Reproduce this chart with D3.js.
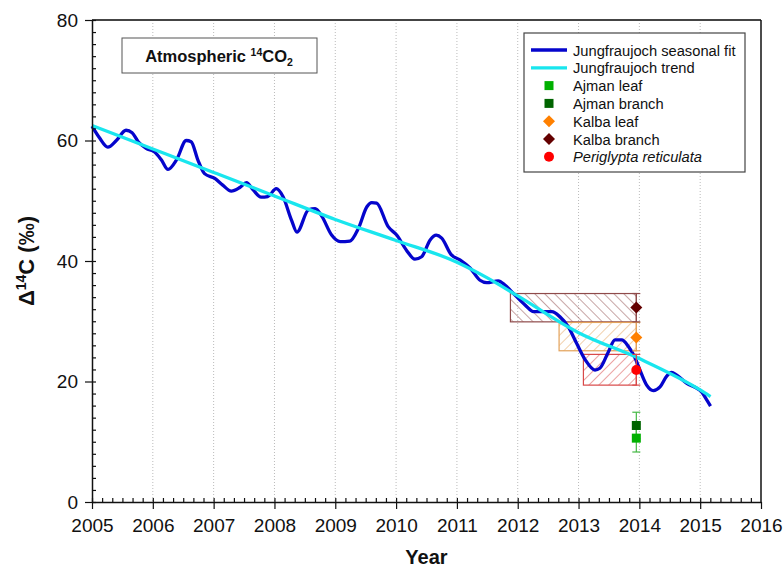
<!DOCTYPE html>
<html>
<head>
<meta charset="utf-8">
<script src="https://cdn.jsdelivr.net/npm/d3@7"></script>
<style>
  body { margin: 0; background: #fff; }
  svg { font-family: Arial, "Liberation Sans", sans-serif; }
</style>
</head>
<body>
<div id="chart"></div>
<script>
// Jungfraujoch seasonal fit
var fitYears = [2005.00, 2005.12, 2005.26, 2005.40, 2005.56, 2005.66, 2005.76, 2005.89, 2006.03, 2006.14,
  2006.25, 2006.39, 2006.55, 2006.63, 2006.74, 2006.85, 2007.02, 2007.15, 2007.29, 2007.43,
  2007.54, 2007.65, 2007.78, 2007.89, 2008.03, 2008.14, 2008.28, 2008.37, 2008.56, 2008.67,
  2008.78, 2008.94, 2009.08, 2009.24, 2009.38, 2009.52, 2009.60, 2009.68, 2009.87, 2010.01,
  2010.17, 2010.31, 2010.42, 2010.56, 2010.66, 2010.75, 2010.91, 2011.05, 2011.22, 2011.38,
  2011.49, 2011.68, 2011.79, 2011.93, 2012.12, 2012.26, 2012.42, 2012.56, 2012.69, 2012.83,
  2012.97, 2013.11, 2013.27, 2013.35, 2013.49, 2013.60, 2013.71, 2013.82, 2013.93, 2014.01,
  2014.12, 2014.23, 2014.34, 2014.45, 2014.53, 2014.61, 2014.78, 2014.94, 2015.02, 2015.11, 2015.17];
var fitValues = [62.4, 60.5, 58.9, 60.0, 61.7, 61.3, 59.8, 58.7, 58.1, 56.8,
  55.2, 56.8, 60.0, 59.8, 56.8, 54.5, 53.7, 52.6, 51.6, 52.2,
  53.0, 51.8, 50.6, 50.7, 52.0, 50.7, 46.8, 44.8, 48.5, 48.7,
  47.4, 44.3, 43.2, 43.3, 45.4, 49.0, 49.7, 49.6, 45.7, 44.3,
  41.8, 40.3, 40.7, 43.5, 44.3, 43.8, 41.0, 40.2, 38.8, 36.8,
  36.4, 36.7, 36.0, 34.6, 32.7, 31.6, 31.6, 31.6, 30.8, 29.1,
  26.3, 23.6, 21.9, 22.2, 24.9, 26.9, 26.9, 25.8, 23.9, 21.9,
  19.4, 18.5, 19.1, 20.9, 21.5, 21.1, 19.7, 18.9, 18.3, 16.9, 15.9];

// Jungfraujoch trend
var trendYears = [2005, 2006, 2007, 2008, 2009, 2010, 2011, 2011.5, 2012, 2013, 2014, 2015, 2015.17];
var trendValues = [62.5, 58.6, 54.7, 50.8, 46.9, 43.4, 39.8, 37.2, 34.2, 28.1, 23.8, 18.6, 17.5];

// sample points (value, error bar low, error bar high)
var sampleNames = ["Ajman leaf", "Ajman branch", "Kalba leaf", "Kalba branch", "Periglypta reticulata"];
var sampleYear = [2013.95, 2013.95, 2013.95, 2013.95, 2013.95];
var sampleValues = [10.6, 12.7, 27.3, 32.3, 21.9];
var sampleLow = [8.3, 10.5, 25.1, 29.9, 19.4];
var sampleHigh = [12.9, 14.9, 29.8, 34.6, 24.5];
var sampleStart = [null, null, 2012.68, 2011.88, 2013.08]; // left edge of hatched boxes

var xTicks = [2005, 2006, 2007, 2008, 2009, 2010, 2011, 2012, 2013, 2014, 2015, 2016];
var yTicks = [0, 20, 40, 60, 80];

var margin = {top: 20, right: 22, bottom: 70, left: 92},
  fullWidth = 783,
  fullHeight = 572,
  width = fullWidth - margin.left - margin.right,
  height = fullHeight - margin.top - margin.bottom;

var markerColor = ["#00b000", "#006400", "#ff8000", "#640000", "#ff0000"];
var boxColor = [null, null, "#e3a25a", "#8f4b4b", "#d84848"];
var hatchDir = [null, null, 45, -45, 45];

var xScale = d3.scaleLinear().domain([2005, 2016]).range([0, width]);
var yScale = d3.scaleLinear().domain([0, 80]).range([height, 0]);

var svg = d3.select("#chart").append("svg")
  .attr("width", fullWidth)
  .attr("height", fullHeight);

var defs = svg.append("defs");
[2, 3, 4].forEach(function (i) {
  var p = defs.append("pattern")
    .attr("id", "hatch" + i)
    .attr("patternUnits", "userSpaceOnUse")
    .attr("width", 7).attr("height", 7)
    .attr("patternTransform", "rotate(" + hatchDir[i] + ")");
  p.append("line")
    .attr("x1", 0).attr("y1", 0).attr("x2", 0).attr("y2", 7)
    .attr("stroke", boxColor[i]).attr("stroke-width", 1);
});

var g = svg.append("g")
  .attr("transform", "translate(" + margin.left + "," + margin.top + ")");

// dotted vertical grid
g.selectAll(".grid")
  .data(xTicks.slice(1, -1))
  .enter().append("line")
  .attr("x1", function (d) { return xScale(d); })
  .attr("x2", function (d) { return xScale(d); })
  .attr("y1", 0).attr("y2", height)
  .attr("stroke", "#bbb").attr("stroke-width", 1)
  .attr("stroke-dasharray", "1,2");

// frame top and right
g.append("line").attr("x1", 0).attr("x2", width).attr("y1", 0).attr("y2", 0)
  .attr("stroke", "#444").attr("stroke-width", 1.8);
g.append("line").attr("x1", width).attr("x2", width).attr("y1", 0).attr("y2", height)
  .attr("stroke", "#111").attr("stroke-width", 1.5);

// hatched boxes
[3, 2, 4].forEach(function (i) {
  g.append("rect")
    .attr("x", xScale(sampleStart[i]))
    .attr("y", yScale(sampleHigh[i]))
    .attr("width", xScale(sampleYear[i]) - xScale(sampleStart[i]))
    .attr("height", yScale(sampleLow[i]) - yScale(sampleHigh[i]))
    .attr("fill", "url(#hatch" + i + ")")
    .attr("stroke", boxColor[i]).attr("stroke-width", 1.2);
});

// lines
var fitLine = d3.line()
  .x(function (d, i) { return xScale(fitYears[i]); })
  .y(function (d) { return yScale(d); })
  .curve(d3.curveMonotoneX);
var trendLine = d3.line()
  .x(function (d, i) { return xScale(trendYears[i]); })
  .y(function (d) { return yScale(d); })
  .curve(d3.curveMonotoneX);

g.append("path").datum(fitValues)
  .attr("d", fitLine).attr("fill", "none")
  .attr("stroke", "#0505cc").attr("stroke-width", 3.3);
g.append("path").datum(trendValues)
  .attr("d", trendLine).attr("fill", "none")
  .attr("stroke", "#19e6ee").attr("stroke-width", 3.3);

// error bars
var barColor = ["#44b844", "#44b844", "#e3a25a", "#8f4b4b", "#d84848"];
sampleValues.forEach(function (v, i) {
  var x = xScale(sampleYear[i]);
  var eb = g.append("g").attr("stroke", barColor[i]).attr("stroke-width", 1.2);
  eb.append("line").attr("x1", x).attr("x2", x)
    .attr("y1", yScale(sampleLow[i])).attr("y2", yScale(sampleHigh[i]));
  eb.append("line").attr("x1", x - 4).attr("x2", x + 4)
    .attr("y1", yScale(sampleLow[i])).attr("y2", yScale(sampleLow[i]));
  eb.append("line").attr("x1", x - 4).attr("x2", x + 4)
    .attr("y1", yScale(sampleHigh[i])).attr("y2", yScale(sampleHigh[i]));
});

// marker shapes
function drawMarker(sel, i, x, y) {
  if (i < 2) {
    sel.append("rect").attr("x", x - 4.5).attr("y", y - 4.5)
      .attr("width", 9).attr("height", 9).attr("fill", markerColor[i]);
  } else if (i < 4) {
    sel.append("path")
      .attr("d", "M" + x + "," + (y - 6) + "L" + (x + 6) + "," + y + "L" + x + "," + (y + 6) + "L" + (x - 6) + "," + y + "Z")
      .attr("fill", markerColor[i]);
  } else {
    sel.append("circle").attr("cx", x).attr("cy", y).attr("r", 5)
      .attr("fill", markerColor[i]);
  }
}
sampleValues.forEach(function (v, i) {
  drawMarker(g, i, xScale(sampleYear[i]), yScale(v));
});

// axes
var xMinor = d3.range(0, 66).map(function (k) { return 2005 + k / 6; });
var yMinor = d3.range(0, 41).map(function (k) { return k * 2; });
var tickFont = "Arial, 'Liberation Sans', sans-serif";

g.append("g").attr("transform", "translate(0," + height + ")")
  .call(d3.axisBottom(xScale).tickValues(xMinor).tickSize(-4).tickFormat(""))
  .call(function (a) { a.select(".domain").remove(); a.selectAll("line").attr("stroke", "#111").attr("stroke-width", 1.2); });
g.append("g").attr("transform", "translate(0," + height + ")")
  .call(d3.axisBottom(xScale).tickValues(xTicks).tickSize(7).tickSizeOuter(0).tickPadding(10).tickFormat(d3.format("d")))
  .call(function (a) {
    a.select(".domain").attr("stroke", "#111").attr("stroke-width", 1.5);
    a.selectAll("line").attr("stroke", "#111").attr("stroke-width", 1.2);
    a.selectAll("text").attr("font-size", 19).attr("fill", "#111").attr("font-family", tickFont);
  });

g.append("g")
  .call(d3.axisLeft(yScale).tickValues(yMinor).tickSize(-4).tickFormat(""))
  .call(function (a) { a.select(".domain").remove(); a.selectAll("line").attr("stroke", "#111").attr("stroke-width", 1.2); });
g.append("g")
  .call(d3.axisLeft(yScale).tickValues(yTicks).tickSize(7).tickSizeOuter(0).tickPadding(7))
  .call(function (a) {
    a.select(".domain").attr("stroke", "#111").attr("stroke-width", 1.5);
    a.selectAll("line").attr("stroke", "#111").attr("stroke-width", 1.2);
    a.selectAll("text").attr("font-size", 19).attr("fill", "#111").attr("font-family", tickFont);
  });

// axis titles
svg.append("text")
  .attr("x", margin.left + width / 2).attr("y", 564)
  .attr("text-anchor", "middle")
  .attr("font-size", 20).attr("font-weight", "bold").attr("fill", "#111")
  .text("Year");

var yLab = svg.append("text")
  .attr("transform", "translate(34," + (margin.top + height / 2) + ") rotate(-90)")
  .attr("text-anchor", "middle")
  .attr("font-size", 22).attr("font-weight", "bold").attr("fill", "#111");
yLab.append("tspan").text("\u0394");
yLab.append("tspan").attr("font-size", 14).attr("dy", -8).text("14");
yLab.append("tspan").attr("dy", 8).text("C (\u2030)");

// title box
svg.append("rect")
  .attr("x", 122).attr("y", 38).attr("width", 195).attr("height", 35)
  .attr("fill", "#fff").attr("stroke", "#555").attr("stroke-width", 1);
var t = svg.append("text")
  .attr("x", 219).attr("y", 62)
  .attr("text-anchor", "middle")
  .attr("font-size", 16.5).attr("font-weight", "bold").attr("fill", "#111");
t.append("tspan").text("Atmospheric ");
t.append("tspan").attr("font-size", 10.5).attr("dy", -6).text("14");
t.append("tspan").attr("dy", 6).text("CO");
t.append("tspan").attr("font-size", 10.5).attr("dy", 4).text("2");

// legend
var legendNames = ["Jungfraujoch seasonal fit", "Jungfraujoch trend"].concat(sampleNames);
svg.append("rect")
  .attr("x", 524).attr("y", 33).attr("width", 221).attr("height", 139)
  .attr("fill", "#fff").attr("stroke", "#444").attr("stroke-width", 1.2);

var legend = svg.selectAll(".legend")
  .data(legendNames)
  .enter().append("g")
  .attr("class", "legend")
  .attr("transform", function (d, i) { return "translate(531," + (50 + i * 17.8) + ")"; });

legend.each(function (d, i) {
  var sel = d3.select(this);
  if (i < 2) {
    sel.append("line").attr("x1", 0).attr("x2", 36).attr("y1", 0).attr("y2", 0)
      .attr("stroke", i === 0 ? "#0505cc" : "#19e6ee").attr("stroke-width", 3.3);
  } else {
    drawMarker(sel, i - 2, 18, 0);
  }
  sel.append("text")
    .attr("x", 42).attr("y", 5.5)
    .attr("font-size", 14.7).attr("fill", "#111")
    .attr("font-style", i === 6 ? "italic" : "normal")
    .text(d);
});
</script>
</body>
</html>
